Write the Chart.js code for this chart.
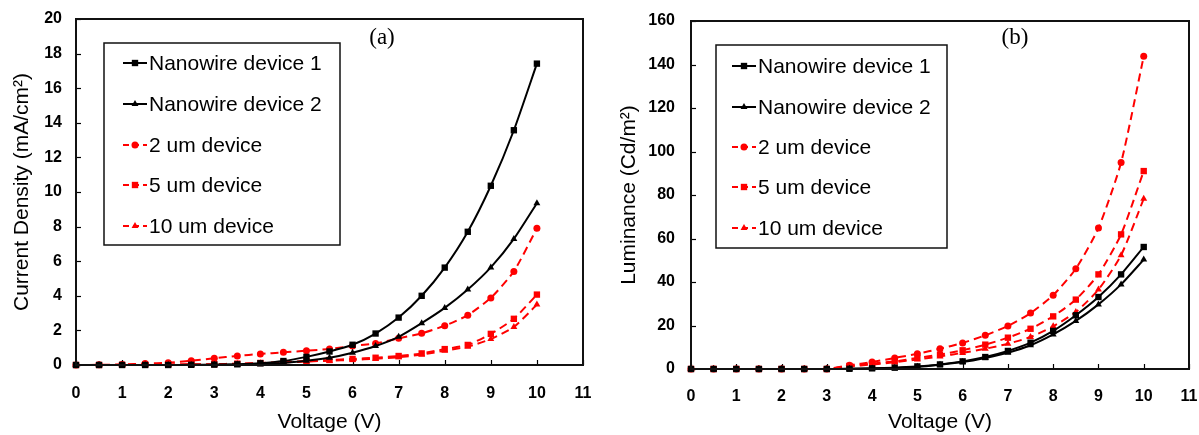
<!DOCTYPE html>
<html lang="en">
<head>
<meta charset="UTF-8">
<title>Nanowire vs planar devices</title>
<script src="https://cdn.jsdelivr.net/npm/chart.js@4.4.1/dist/chart.umd.min.js"></script>
<style>
  body { margin: 0; background: #fff; }
  #wrap { position: relative; width: 1199px; height: 435px; }
  canvas { position: absolute; top: 0; }
</style>
</head>
<body>
<div id="wrap">
  <canvas id="chartA" width="600" height="435" style="left:0"></canvas>
  <canvas id="chartB" width="599" height="435" style="left:600px"></canvas>
</div>
<script>
// voltage steps (V)
const voltage = [0, 0.5, 1, 1.5, 2, 2.5, 3, 3.5, 4, 4.5, 5, 5.5, 6, 6.5, 7, 7.5, 8, 8.5, 9, 9.5, 10];
const seriesNames = ['Nanowire device 1', 'Nanowire device 2', '2 um device', '5 um device', '10 um device'];

// (a) current density, mA/cm2
const jNw1  = [0, 0, 0, 0, 0, 0.01, 0.02, 0.04, 0.1, 0.23, 0.47, 0.78, 1.17, 1.82, 2.74, 4.0, 5.63, 7.7, 10.36, 13.57, 17.42];
const jNw2  = [0, 0, 0, 0, 0, 0, 0.01, 0.02, 0.05, 0.12, 0.25, 0.42, 0.71, 1.1, 1.63, 2.42, 3.3, 4.36, 5.64, 7.29, 9.35];
const j2um  = [0, 0.01, 0.03, 0.08, 0.13, 0.25, 0.39, 0.52, 0.64, 0.73, 0.83, 0.92, 1.1, 1.25, 1.54, 1.83, 2.27, 2.88, 3.88, 5.41, 7.9];
const j5um  = [0, 0, 0.01, 0.01, 0.02, 0.04, 0.05, 0.08, 0.12, 0.17, 0.23, 0.29, 0.35, 0.42, 0.52, 0.67, 0.92, 1.16, 1.8, 2.67, 4.07];
const j10um = [0, 0, 0, 0.01, 0.02, 0.03, 0.04, 0.06, 0.1, 0.15, 0.2, 0.25, 0.3, 0.36, 0.45, 0.6, 0.83, 1.06, 1.5, 2.2, 3.49];

// (b) luminance, Cd/m2
const lNw1  = [0, 0, 0, 0, 0, 0, 0, 0.1, 0.3, 0.6, 1.2, 2.1, 3.5, 5.5, 8.3, 12.1, 17.5, 24.7, 33.1, 43.5, 56.1];
const lNw2  = [0, 0, 0, 0, 0, 0, 0, 0.1, 0.2, 0.5, 1.0, 2.0, 3.2, 5.1, 7.5, 10.9, 15.9, 22.1, 29.7, 38.9, 50.3];
const l2um  = [0, 0, 0, 0, 0, 0, 0, 1.7, 3.2, 5.1, 7.0, 9.3, 12.0, 15.5, 19.8, 25.7, 33.9, 46.1, 64.8, 94.9, 143.8];
const l5um  = [0, 0, 0, 0, 0, 0, 0, 1.4, 2.5, 3.5, 5.1, 6.6, 8.6, 11.2, 14.4, 18.5, 24.2, 31.9, 43.5, 61.9, 91.0];
const l10um = [0, 0, 0, 0, 0, 0, 0, 1.2, 2.1, 3.1, 4.4, 5.8, 7.4, 9.3, 11.6, 14.7, 19.6, 26.2, 36.5, 52.3, 78.3];

// styling per series
const lineColors = ['#000', '#000', '#ff0000', '#ff0000', '#ff0000'];
const lineDash   = [[], [], [8, 5], [8, 5], [8, 5]];
const markers    = ['rect', 'triangle', 'circle', 'rect', 'triangle'];
const markerSize = [4.5, 4, 3.5, 4.5, 4];

const sansFont = 'Liberation Sans, Arial, sans-serif';

function buildSets(values) {
    return values.map((v, i) => ({
        label: seriesNames[i],
        data: voltage.map((x, k) => ({ x: x, y: v[k] })),
        borderColor: lineColors[i],
        backgroundColor: lineColors[i],
        borderWidth: 2,
        borderDash: lineDash[i],
        pointStyle: markers[i],
        pointRadius: markerSize[i],
        pointBorderWidth: 0,
        tension: 0.2,
        clip: false
    }));
}

// frame, inward ticks, boxed legend, panel tag
const panelPlugin = {
    id: 'panel',
    beforeDatasetsDraw(chart) {
        const ctx = chart.ctx, area = chart.chartArea;
        ctx.save();
        ctx.strokeStyle = '#000';
        ctx.lineWidth = 1.2;
        chart.scales.x.ticks.forEach(t => {
            const px = Math.round(chart.scales.x.getPixelForValue(t.value)) + 0.5;
            ctx.beginPath(); ctx.moveTo(px, area.bottom); ctx.lineTo(px, area.bottom - 5); ctx.stroke();
        });
        chart.scales.y.ticks.forEach(t => {
            const py = Math.round(chart.scales.y.getPixelForValue(t.value)) + 0.5;
            ctx.beginPath(); ctx.moveTo(area.left, py); ctx.lineTo(area.left + 5, py); ctx.stroke();
        });
        ctx.restore();
    },
    afterDatasetsDraw(chart, args, opts) {
        const ctx = chart.ctx, area = chart.chartArea;
        ctx.save();
        ctx.strokeStyle = '#111';
        ctx.lineWidth = 2;
        ctx.strokeRect(area.left, area.top, area.right - area.left, area.bottom - area.top);

        // legend
        const lg = opts.legend;
        ctx.fillStyle = '#fff';
        ctx.fillRect(lg.x, lg.y, lg.w, lg.h);
        ctx.lineWidth = 1.5;
        ctx.strokeStyle = '#111';
        ctx.strokeRect(lg.x, lg.y, lg.w, lg.h);
        ctx.font = '21px ' + sansFont;
        ctx.textBaseline = 'middle';
        chart.data.datasets.forEach((ds, i) => {
            const y = lg.rowY[i];
            ctx.strokeStyle = ds.borderColor;
            ctx.fillStyle = ds.borderColor;
            ctx.lineWidth = 2;
            ctx.setLineDash(ds.borderDash.length ? [6, 4] : []);
            ctx.beginPath(); ctx.moveTo(lg.lineX, y); ctx.lineTo(lg.lineX + 24, y); ctx.stroke();
            ctx.setLineDash([]);
            Chart.helpers.drawPoint(ctx, { pointStyle: ds.pointStyle, radius: ds.pointRadius, rotation: 0, borderWidth: 0 }, lg.lineX + 12, y);
            ctx.fillStyle = '#000';
            ctx.fillText(ds.label, lg.lineX + 26, y + 1);
        });

        // (a) / (b)
        ctx.font = '23px Liberation Serif, Times New Roman, serif';
        ctx.textAlign = 'center';
        ctx.fillStyle = '#000';
        ctx.fillText(opts.tag.text, opts.tag.x, opts.tag.y);
        ctx.restore();
    }
};

function makeChart(id, values, o) {
    const tickFont = { family: sansFont, size: 16, weight: 'bold' };
    const titleFont = { family: sansFont, size: 21 };
    new Chart(document.getElementById(id), {
        type: 'line',
        data: { datasets: buildSets(values) },
        plugins: [panelPlugin],
        options: {
            responsive: false,
            animation: false,
            devicePixelRatio: 1,
            layout: { padding: { left: 0, right: o.padRight, top: o.padTop, bottom: 0 } },
            plugins: {
                legend: { display: false },
                tooltip: { enabled: false },
                panel: { legend: o.legend, tag: o.tag }
            },
            scales: {
                x: {
                    type: 'linear', min: 0, max: 11,
                    ticks: { stepSize: 1, color: '#000', font: tickFont, padding: o.xTickPad, maxRotation: 0 },
                    grid: { display: false, drawTicks: false },
                    border: { display: false },
                    title: { display: true, text: 'Voltage (V)', color: '#000', font: titleFont, padding: { top: 0, bottom: 0 } },
                    afterFit(s) { s.height = o.xAxisH; s.paddingLeft = 0; s.paddingRight = 0; }
                },
                y: {
                    type: 'linear', min: 0, max: o.yMax,
                    ticks: { stepSize: o.yStep, color: '#000', font: tickFont, padding: o.yTickPad },
                    grid: { display: false, drawTicks: false },
                    border: { display: false },
                    title: { display: true, text: o.yTitle, color: '#000', font: titleFont, padding: { top: o.yTitlePad, bottom: 0 } },
                    afterFit(s) { s.width = o.yAxisW; s.paddingTop = 0; s.paddingBottom = 0; }
                }
            }
        }
    });
}

makeChart('chartA', [jNw1, jNw2, j2um, j5um, j10um], {
    yMax: 20, yStep: 2, yTitle: 'Current Density (mA/cm²)',
    padRight: 17, padTop: 19, xAxisH: 70, yAxisW: 76,
    xTickPad: 19, yTickPad: 14, yTitlePad: 10,
    legend: { x: 104, y: 43, w: 236, h: 202, lineX: 123, rowY: [63, 104, 145, 185, 226] },
    tag: { text: '(a)', x: 382, y: 38 }
});

makeChart('chartB', [lNw1, lNw2, l2um, l5um, l10um], {
    yMax: 160, yStep: 20, yTitle: 'Luminance (Cd/m²)',
    padRight: 10, padTop: 21, xAxisH: 66, yAxisW: 91,
    xTickPad: 18, yTickPad: 16, yTitlePad: 17,
    legend: { x: 116, y: 45, w: 231, h: 203, lineX: 132, rowY: [66, 107, 147, 187, 228] },
    tag: { text: '(b)', x: 415, y: 38 }
});
</script>
</body>
</html>
